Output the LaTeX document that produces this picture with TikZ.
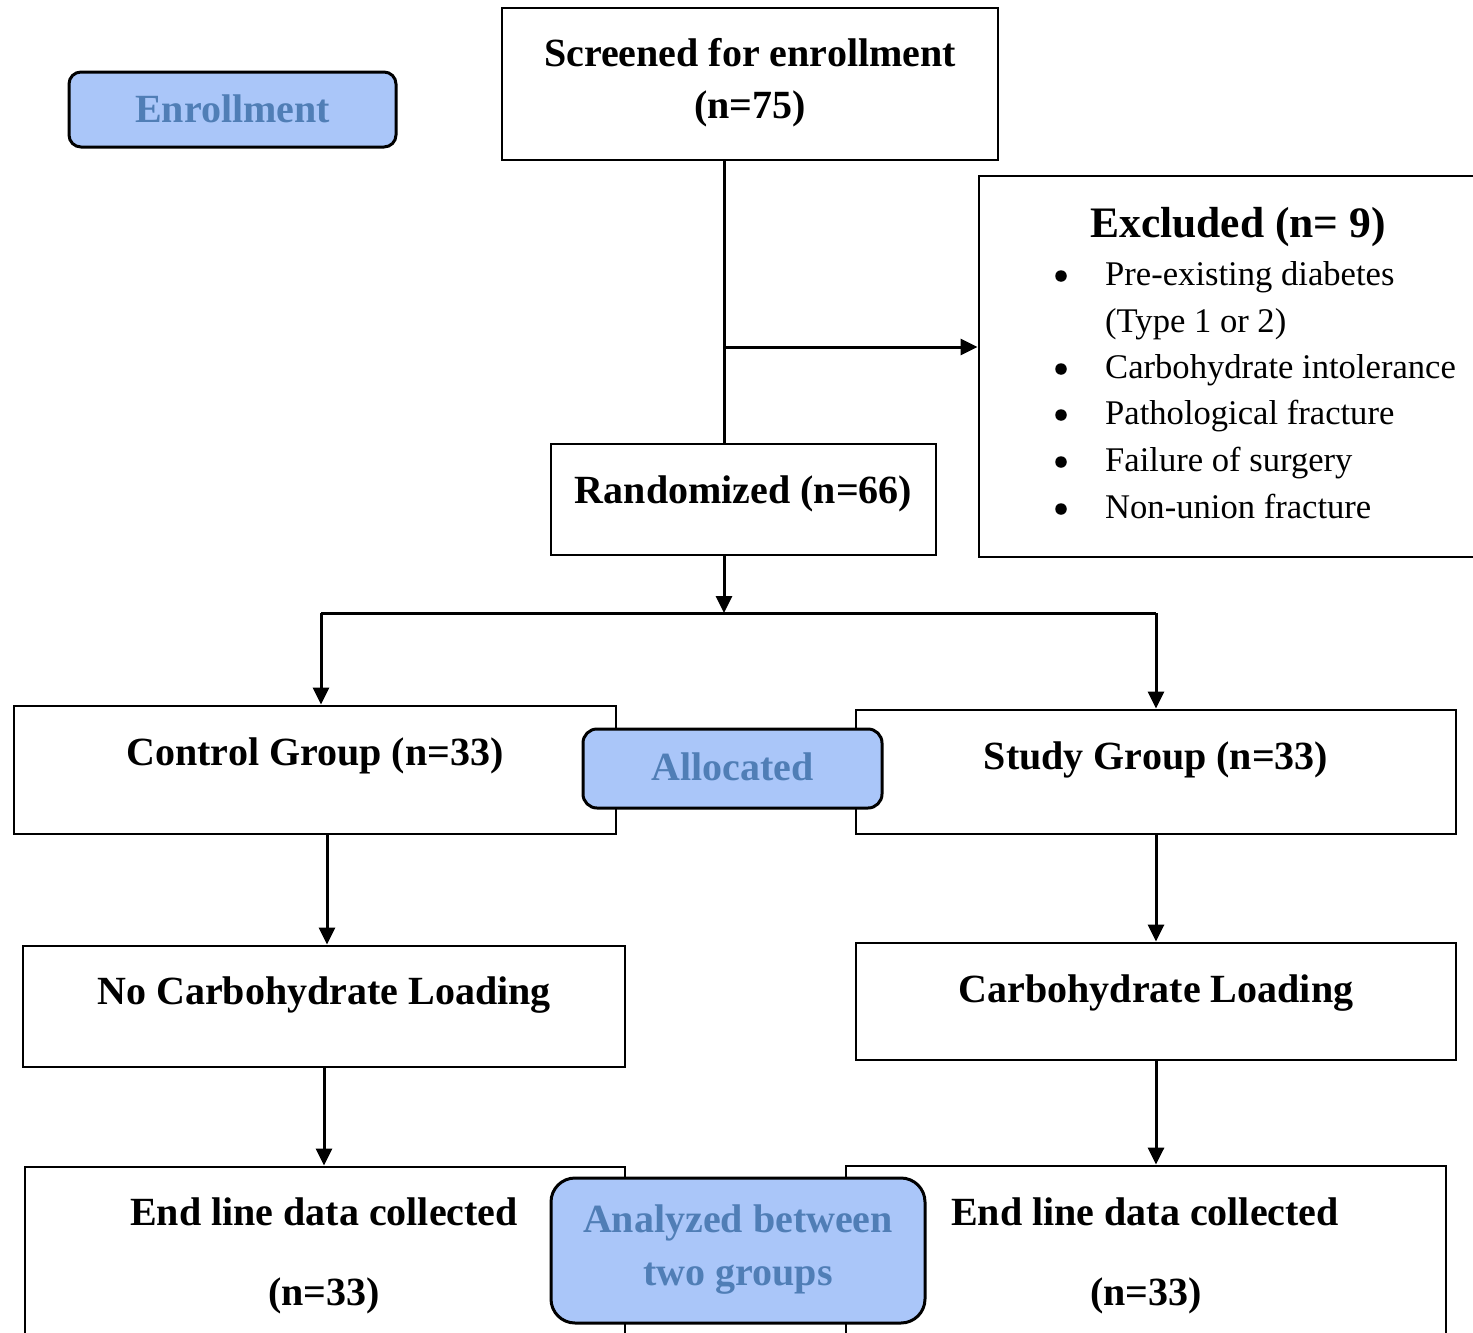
\documentclass[tikz,border=0pt]{standalone}
\usepackage{fontspec}
\setmainfont{Liberation Serif}
\usetikzlibrary{arrows.meta}
\definecolor{tagfill}{RGB}{170,198,249}
\definecolor{tagtext}{RGB}{80,126,182}

\begin{document}
\begin{tikzpicture}[x=1pt,y=-1pt,
  box/.style={draw,line width=2.8pt,fill=white,inner sep=0pt},
  tag/.style={draw,line width=3pt,fill=tagfill,rounded corners=14pt,inner sep=0pt},
  lbl/.style={anchor=base,inner sep=0pt,font=\fontsize{40}{48}\selectfont\bfseries},
  taglbl/.style={lbl,text=tagtext},
  item/.style={anchor=base west,inner sep=0pt,font=\fontsize{34.6}{40}\selectfont},
  dot/.style={circle,fill,inner sep=0pt,minimum size=11.5pt},
  arr/.style={line width=3pt,-{Triangle[length=17pt,width=16pt]}},
  ln/.style={line width=3pt}]
  \useasboundingbox (0,0) rectangle (1473,1333);
  \clip (0,0) rectangle (1473,1333);
  \coordinate (split) at (724,613);
  \coordinate (branch) at (724,347);
  \coordinate (lb) at (321,613);
  \coordinate (rb) at (1156,613);
  \node[box,minimum width=496,minimum height=152] (screen) at (750,84) {};
  \node[box,minimum width=511,minimum height=381] (excl) at (1234.5,366.5) {};
  \node[box,minimum width=385,minimum height=111] (rand) at (743.5,499.5) {};
  \node[box,minimum width=602,minimum height=128] (ctrl) at (315,770) {};
  \node[box,minimum width=600,minimum height=124] (study) at (1156,772) {};
  \node[box,minimum width=602,minimum height=121] (nocarb) at (324,1006.5) {};
  \node[box,minimum width=600,minimum height=117] (carb) at (1156,1001.5) {};
  \node[box,minimum width=600,minimum height=194] (endl) at (325,1264) {};
  \node[box,minimum width=600,minimum height=194] (endr) at (1146,1263) {};
  \node[tag,minimum width=327,minimum height=75,rounded corners=12pt] (enroll) at (232.5,109.5) {};
  \node[tag,minimum width=299,minimum height=79] (alloc) at (732.5,768.5) {};
  \node[tag,minimum width=374,minimum height=145,rounded corners=24pt] (anal) at (738,1250.5) {};
  \draw[ln] (screen.south -| split) -- (rand.north -| split);
  \draw[arr] (branch) -- (branch -| excl.west);
  \draw[arr] (rand.south -| split) -- (split);
  \draw[ln] (lb) -- (rb);
  \draw[arr] (lb) -- (lb |- ctrl.north);
  \draw[arr] (rb) -- (rb |- study.north);
  \draw[arr] (ctrl.south -| 327,0) -- (nocarb.north -| 327,0);
  \draw[arr] (study.south) -- (carb.north);
  \draw[arr] (nocarb.south) -- (nocarb.south |- endl.north);
  \draw[arr] (carb.south) -- (carb.south |- endr.north);
  \node[taglbl] (enroll-t) at (232.5,122) {Enrollment};
  \node[lbl] (screen-t1) at (750,66) {Screened for enrollment};
  \node[lbl] (screen-t2) at (750,118) {(n=75)};
  \node[lbl,font=\fontsize{43.5}{50}\selectfont\bfseries] (excl-t) at (1238,237) {Excluded (n= 9)};
  \node[item] (ex1) at (1105,285) {Pre-existing diabetes};
  \node[item] (ex1b) at (1105,332) {(Type 1 or 2)};
  \node[item] (ex2) at (1105,378) {Carbohydrate intolerance};
  \node[item] (ex3) at (1105,424) {Pathological fracture};
  \node[item] (ex4) at (1105,471) {Failure of surgery};
  \node[item] (ex5) at (1105,518) {Non-union fracture};
  \foreach \y in {285,378,424,471,518}
    \node[dot] at (1061,\y-9) {};
  \node[lbl] (rand-t) at (743.5,503) {Randomized (n=66)};
  \node[lbl] (ctrl-t) at (315,765) {Control Group (n=33)};
  \node[taglbl] (alloc-t) at (732.5,780) {Allocated};
  \node[lbl] (study-t) at (1156,769) {Study Group (n=33)};
  \node[lbl] (nocarb-t) at (324,1004) {No Carbohydrate Loading};
  \node[lbl] (carb-t) at (1156,1002) {Carbohydrate Loading};
  \node[lbl] (endl-t1) at (324,1225) {End line data collected};
  \node[lbl] (endl-t2) at (324,1305) {(n=33)};
  \node[lbl] (endr-t1) at (1145,1225) {End line data collected};
  \node[lbl] (endr-t2) at (1146,1305) {(n=33)};
  \node[taglbl] (anal-t1) at (738,1232) {Analyzed between};
  \node[taglbl] (anal-t2) at (738,1285) {two groups};
\end{tikzpicture}
\end{document}
